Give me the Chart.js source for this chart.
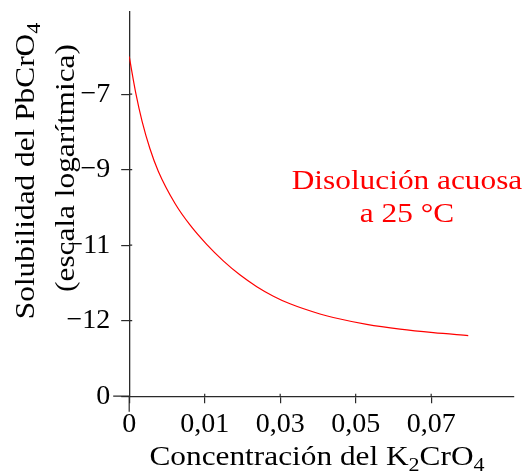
<!DOCTYPE html>
<html>
<head>
<meta charset="utf-8">
<script src="https://cdn.jsdelivr.net/npm/chart.js@4.4.1/dist/chart.umd.min.js"></script>
<style>
  html, body { margin: 0; padding: 0; background: #fff; }
  #wrap { width: 525px; height: 472px; }
</style>
</head>
<body>
<div id="wrap"><canvas id="c" width="525" height="472"></canvas></div>
<script>
// Schematic chart: evenly spaced tick slots, labels
const xTickLabels = ['0', '0,01', '0,03', '0,05', '0,07'];
const yTickLabels = ['0', '\u221212', '\u221211', '\u22129', '\u22127'];

// Curve (x and y in tick-slot units)
const curveX = [0, 0.09, 0.17, 0.275, 0.385, 0.607, 0.805, 1.026, 1.246, 1.47, 1.69, 1.91, 2.13, 2.527, 2.703, 3.146, 3.587, 4.028, 4.491];
const curveY = [4.5, 4.0, 3.644, 3.277, 2.98, 2.552, 2.268, 2.011, 1.793, 1.605, 1.451, 1.325, 1.224, 1.089, 1.042, 0.952, 0.888, 0.841, 0.803];

const xTitleParts = [['Concentración del K', false], ['2', true], ['CrO', false], ['4', true]];
const yTitle1Parts = [['Solubilidad del PbCrO', false], ['4', true]];
const yTitle2Parts = [['(escala logarítmica)', false]];
const note1 = 'Disolución acuosa';
const note2 = 'a 25 \u00B0C';

const FONT = '"Liberation Serif", "Times New Roman", serif';
const RED = '#ff0000';
const AXIS = '#2a2a2a';
const STRETCH = 1.16;

function drawParts(ctx, parts, size, subSize, subDrop) {
  let total = 0;
  const widths = parts.map(([t, sub]) => {
    ctx.font = (sub ? subSize : size) + 'px ' + FONT;
    const w = ctx.measureText(t).width;
    total += w;
    return w;
  });
  ctx.scale(STRETCH, 1);
  let x = -total / 2;
  ctx.textAlign = 'left';
  ctx.textBaseline = 'alphabetic';
  parts.forEach(([t, sub], i) => {
    ctx.font = (sub ? subSize : size) + 'px ' + FONT;
    ctx.fillText(t, x, sub ? subDrop : 0);
    x += widths[i];
  });
}

function textAt(ctx, parts, x, y, rot, color) {
  ctx.save();
  ctx.fillStyle = color;
  ctx.translate(x, y);
  if (rot) ctx.rotate(rot);
  drawParts(ctx, parts, 27, 19, 6);
  ctx.restore();
}

const axisPlugin = {
  id: 'axisExtras',
  afterDraw(chart) {
    const ctx = chart.ctx;
    const xs = chart.scales.x, ys = chart.scales.y;
    const x0 = xs.getPixelForValue(0), y0 = ys.getPixelForValue(0);
    ctx.save();
    ctx.strokeStyle = AXIS;
    ctx.lineWidth = 1.3;
    ctx.beginPath();
    // axis extensions beyond the origin
    ctx.moveTo(x0 - 16, y0); ctx.lineTo(x0, y0);
    ctx.moveTo(x0, y0); ctx.lineTo(x0, y0 + 15.5);
    // short inward parts of tick marks
    ctx.lineWidth = 1.2;
    yTickLabels.forEach((_, i) => {
      if (i === 0) return;
      const p = ys.getPixelForValue(i);
      ctx.moveTo(x0, p); ctx.lineTo(x0 + 3, p);
    });
    xTickLabels.forEach((_, i) => {
      if (i === 0) return;
      const p = xs.getPixelForValue(i);
      ctx.moveTo(p, y0); ctx.lineTo(p, y0 - 2.5);
    });
    ctx.stroke();
    ctx.restore();

    textAt(ctx, xTitleParts, 317, 465, 0, '#000');
    textAt(ctx, yTitle1Parts, 34, 171, -Math.PI / 2, '#000');
    textAt(ctx, yTitle2Parts, 74, 168, -Math.PI / 2, '#000');
    textAt(ctx, [[note1, false]], 407, 189, 0, RED);
    textAt(ctx, [[note2, false]], 407, 222, 0, RED);
  }
};

const points = curveX.map((x, i) => ({ x: x, y: curveY[i] }));

new Chart(document.getElementById('c'), {
  type: 'scatter',
  data: {
    datasets: [{
      data: points,
      showLine: true,
      borderColor: RED,
      borderWidth: 1.2,
      pointRadius: 0,
      cubicInterpolationMode: 'monotone',
      fill: false
    }]
  },
  options: {
    responsive: false,
    animation: false,
    layout: { padding: { left: 0, right: 11, top: 11.7, bottom: 0 } },
    plugins: { legend: { display: false }, tooltip: { enabled: false } },
    scales: {
      x: {
        type: 'linear',
        position: 'bottom',
        min: 0,
        max: 5.097,
        afterFit: s => { s.height = 75.8; s.paddingLeft = 0; s.paddingRight = 0; },
        afterBuildTicks: s => { s.ticks = xTickLabels.map((_, i) => ({ value: i })); },
        ticks: {
          callback: v => xTickLabels[v] !== undefined ? xTickLabels[v] : '',
          font: { family: FONT, size: 28 },
          color: '#000',
          padding: 5,
          maxRotation: 0,
          autoSkip: false
        },
        grid: { drawOnChartArea: false, drawTicks: true, tickLength: 7, color: AXIS, lineWidth: 1.2 },
        border: { display: true, color: AXIS, width: 1.3 }
      },
      y: {
        type: 'linear',
        position: 'left',
        min: 0,
        max: 5.093,
        afterFit: s => { s.width = 129.2; s.paddingTop = 0; s.paddingBottom = 0; },
        afterBuildTicks: s => { s.ticks = yTickLabels.map((_, i) => ({ value: i })); },
        ticks: {
          callback: v => yTickLabels[v] !== undefined ? yTickLabels[v] : '',
          font: { family: FONT, size: 28 },
          color: '#000',
          padding: 11,
          autoSkip: false
        },
        grid: { drawOnChartArea: false, drawTicks: true, tickLength: 8, color: AXIS, lineWidth: 1.2 },
        border: { display: true, color: AXIS, width: 1.3 }
      }
    }
  },
  plugins: [axisPlugin]
});
</script>
</body>
</html>
